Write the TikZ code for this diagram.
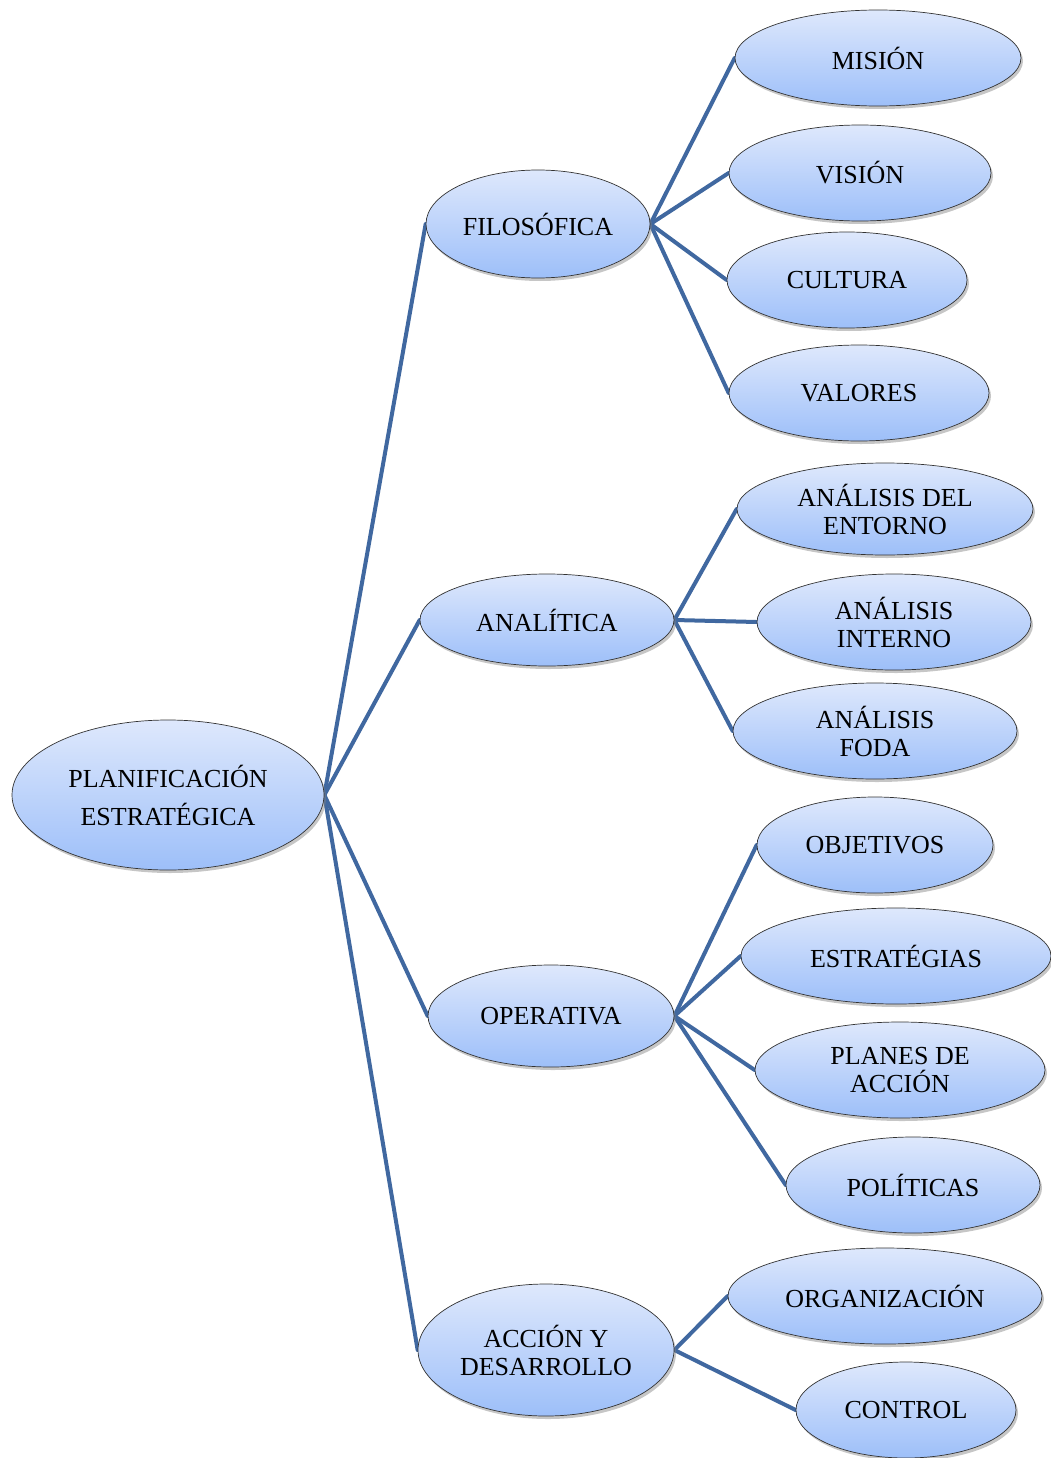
\documentclass[tikz,border=0pt]{standalone}
\usepackage{fontspec}
\setmainfont{Liberation Serif}
\usetikzlibrary{shapes.geometric,shadows}
\definecolor{topc}{HTML}{DEE8FC}
\definecolor{botc}{HTML}{9DBFF9}
\definecolor{linec}{HTML}{4068A0}
\definecolor{edgec}{HTML}{333333}
\pgfdeclarelayer{bg}
\pgfsetlayers{bg,main}
\tikzset{
  bubble/.style={ellipse, draw=edgec, line width=0.7pt, top color=topc, bottom color=botc,
    inner sep=0pt, align=center, font=\fontsize{26}{28}\selectfont,
    drop shadow={opacity=0.45, shadow xshift=2pt, shadow yshift=-3pt}},
  conn/.style={draw=linec, line width=4pt, line cap=round},
}
\newcommand{\bub}[6]{\node[bubble, minimum width=#4pt, minimum height=#5pt] (#1) at (#2,#3) {#6};}
\begin{document}
\begin{tikzpicture}[x=1pt,y=-1pt]
\useasboundingbox (0,0) rectangle (1051,1458);
\node[bubble, minimum width=312pt, minimum height=150pt, font=\fontsize{26}{38}\selectfont] (root) at (168,795) {PLANIFICACIÓN\\ESTRATÉGICA};
\bub{fil}{538}{224}{224}{108}{FILOSÓFICA}
\bub{ana}{547}{620}{254}{92}{ANALÍTICA}
\bub{ope}{551}{1016}{246}{102}{OPERATIVA}
\bub{acc}{546}{1350}{256}{132}{ACCIÓN Y\\DESARROLLO}
\bub{mis}{878}{58}{286}{96}{MISIÓN}
\bub{vis}{860}{173}{262}{96}{VISIÓN}
\bub{cul}{847}{280}{240}{96}{CULTURA}
\bub{val}{859}{393}{260}{96}{VALORES}
\bub{ent}{885}{509}{296}{92}{ANÁLISIS DEL\\ENTORNO}
\bub{int}{894}{622}{274}{96}{ANÁLISIS\\INTERNO}
\bub{fod}{875}{731}{284}{96}{ANÁLISIS\\FODA}
\bub{obj}{875}{845}{236}{96}{OBJETIVOS}
\bub{est}{896}{956}{310}{96}{ESTRATÉGIAS}
\bub{pla}{900}{1070}{290}{96}{PLANES DE\\ACCIÓN}
\bub{pol}{913}{1185}{254}{96}{POLÍTICAS}
\bub{org}{885}{1296}{314}{96}{ORGANIZACIÓN}
\bub{con}{906}{1410}{220}{96}{CONTROL}
\begin{pgfonlayer}{bg}
\foreach \c in {fil,ana,ope,acc} \draw[conn] (root.east) -- (\c.west);
\foreach \c in {mis,vis,cul,val} \draw[conn] (fil.east) -- (\c.west);
\foreach \c in {ent,int,fod} \draw[conn] (ana.east) -- (\c.west);
\foreach \c in {obj,est,pla,pol} \draw[conn] (ope.east) -- (\c.west);
\foreach \c in {org,con} \draw[conn] (acc.east) -- (\c.west);
\end{pgfonlayer}
\end{tikzpicture}
\end{document}
